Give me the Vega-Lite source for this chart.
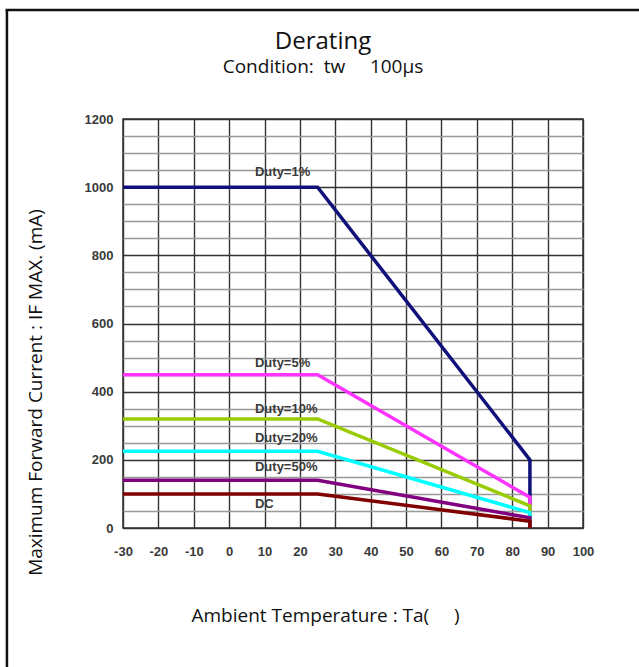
{
  "$schema": "https://vega.github.io/schema/vega-lite/v6.json",
  "width": 460,
  "height": 409,
  "autosize": {"type": "none"},
  "padding": {"left": 123, "top": 119, "right": 56, "bottom": 139},
  "background": "white",
  "title": {
    "text": "Derating",
    "subtitle": "Condition:\u00a0\u00a0tw\u00a0\u00a0\u00a0\u00a0\u00a0100μs",
    "anchor": "middle",
    "frame": "group",
    "dx": -30,
    "offset": -68,
    "font": "Open Sans",
    "fontSize": 24,
    "fontWeight": "normal",
    "color": "#111",
    "subtitleFont": "Open Sans",
    "subtitleFontSize": 19,
    "subtitleColor": "#111",
    "subtitlePadding": 4
  },
  "datasets": {
    "curves": [
      {"series": "Duty=1%", "i": 1, "ta": -30, "current": 1000},
      {"series": "Duty=1%", "i": 2, "ta": 25, "current": 1000},
      {"series": "Duty=1%", "i": 3, "ta": 85, "current": 200},
      {"series": "Duty=1%", "i": 4, "ta": 85, "current": 0},
      {"series": "Duty=5%", "i": 1, "ta": -30, "current": 450},
      {"series": "Duty=5%", "i": 2, "ta": 25, "current": 450},
      {"series": "Duty=5%", "i": 3, "ta": 85, "current": 90},
      {"series": "Duty=5%", "i": 4, "ta": 85, "current": 0},
      {"series": "Duty=10%", "i": 1, "ta": -30, "current": 320},
      {"series": "Duty=10%", "i": 2, "ta": 25, "current": 320},
      {"series": "Duty=10%", "i": 3, "ta": 85, "current": 65},
      {"series": "Duty=10%", "i": 4, "ta": 85, "current": 0},
      {"series": "Duty=20%", "i": 1, "ta": -30, "current": 225},
      {"series": "Duty=20%", "i": 2, "ta": 25, "current": 225},
      {"series": "Duty=20%", "i": 3, "ta": 85, "current": 45},
      {"series": "Duty=20%", "i": 4, "ta": 85, "current": 0},
      {"series": "Duty=50%", "i": 1, "ta": -30, "current": 140},
      {"series": "Duty=50%", "i": 2, "ta": 25, "current": 140},
      {"series": "Duty=50%", "i": 3, "ta": 85, "current": 30},
      {"series": "Duty=50%", "i": 4, "ta": 85, "current": 0},
      {"series": "DC", "i": 1, "ta": -30, "current": 100},
      {"series": "DC", "i": 2, "ta": 25, "current": 100},
      {"series": "DC", "i": 3, "ta": 85, "current": 20},
      {"series": "DC", "i": 4, "ta": 85, "current": 0}
    ],
    "labels": [
      {"label": "Duty=1%", "ta": 7.3, "current": 1045},
      {"label": "Duty=5%", "ta": 7.3, "current": 484},
      {"label": "Duty=10%", "ta": 7.3, "current": 349},
      {"label": "Duty=20%", "ta": 7.3, "current": 264},
      {"label": "Duty=50%", "ta": 7.3, "current": 180},
      {"label": "DC", "ta": 7.3, "current": 70}
    ]
  },
  "layer": [
    {
      "data": {"name": "curves"},
      "mark": {"type": "line", "strokeWidth": 3.5, "strokeJoin": "miter", "clip": false},
      "encoding": {
        "x": {
          "field": "ta",
          "type": "quantitative",
          "scale": {"domain": [-30, 100], "nice": false, "zero": false},
          "axis": {
            "values": [-30, -20, -10, 0, 10, 20, 30, 40, 50, 60, 70, 80, 90, 100],
            "tickCount": 30,
            "labelExpr": "datum.value + ''",
            "labelOverlap": false,
            "title": "Ambient Temperature : Ta(\u00a0\u00a0\u00a0\u00a0\u00a0)",
            "titleX": 202,
            "titleY": 87,
            "titleAlign": "center",
            "titleBaseline": "middle",
            "titleFont": "Open Sans",
            "titleFontSize": 19,
            "titleFontWeight": "normal",
            "titleColor": "#111",
            "labelFont": "Liberation Sans",
            "labelFontSize": 13,
            "labelFontWeight": "bold",
            "labelColor": "#3a3a3a",
            "labelPadding": 17,
            "ticks": false,
            "tickSize": 0,
            "domain": false,
            "grid": true,
            "gridColor": "#333",
            "gridWidth": 1.4,
            "labelFlush": false
          }
        },
        "y": {
          "field": "current",
          "type": "quantitative",
          "scale": {"domain": [0, 1200], "nice": false},
          "axis": {
            "values": [0, 50, 100, 150, 200, 250, 300, 350, 400, 450, 500, 550, 600, 650, 700, 750, 800, 850, 900, 950, 1000, 1050, 1100, 1150, 1200],
            "tickCount": 50,
            "labelExpr": "datum.value % 200 === 0 ? datum.value + '' : ''",
            "labelOverlap": false,
            "title": "Maximum Forward Current : IF MAX. (mA)",
            "titleX": -88,
            "titleY": 273,
            "titleAngle": -90,
            "titleAlign": "center",
            "titleBaseline": "middle",
            "titleFont": "Open Sans",
            "titleFontSize": 19,
            "titleFontWeight": "normal",
            "titleColor": "#111",
            "labelFont": "Liberation Sans",
            "labelFontSize": 13,
            "labelFontWeight": "bold",
            "labelColor": "#3a3a3a",
            "labelPadding": 10,
            "ticks": false,
            "tickSize": 0,
            "domain": false,
            "grid": true,
            "gridColor": {"condition": {"test": "datum.value % 200 === 0", "value": "#333"}, "value": "#999"},
            "gridWidth": 1.5,
            "labelFlush": false
          }
        },
        "color": {
          "field": "series",
          "type": "nominal",
          "scale": {
            "domain": ["Duty=1%", "Duty=5%", "Duty=10%", "Duty=20%", "Duty=50%", "DC"],
            "range": ["#10107a", "#ff33ff", "#99cc00", "#00ffff", "#800080", "#800000"]
          },
          "legend": null
        },
        "order": {"field": "i", "type": "quantitative"}
      }
    },
    {
      "data": {"name": "labels"},
      "mark": {"type": "text", "align": "left", "baseline": "middle", "font": "Liberation Sans", "fontSize": 13, "fontWeight": "bold", "color": "#3a3a3a"},
      "encoding": {
        "x": {"field": "ta", "type": "quantitative"},
        "y": {"field": "current", "type": "quantitative"},
        "text": {"field": "label"}
      }
    },
    {
      "data": {"values": [{"edge": "left"}]},
      "mark": {"type": "rule", "color": "#111", "strokeWidth": 2.5, "clip": false},
      "encoding": {
        "x": {"datum": -62.8},
        "y": {"datum": 1520},
        "y2": {"datum": -420}
      }
    },
    {
      "data": {"values": [{"edge": "top"}]},
      "mark": {"type": "rule", "color": "#111", "strokeWidth": 2.5, "clip": false},
      "encoding": {
        "x": {"datum": -63.2},
        "x2": {"datum": 125},
        "y": {"datum": 1519.8}
      }
    }
  ],
  "config": {
    "view": {"stroke": "#333", "strokeWidth": 1.5}
  }
}
